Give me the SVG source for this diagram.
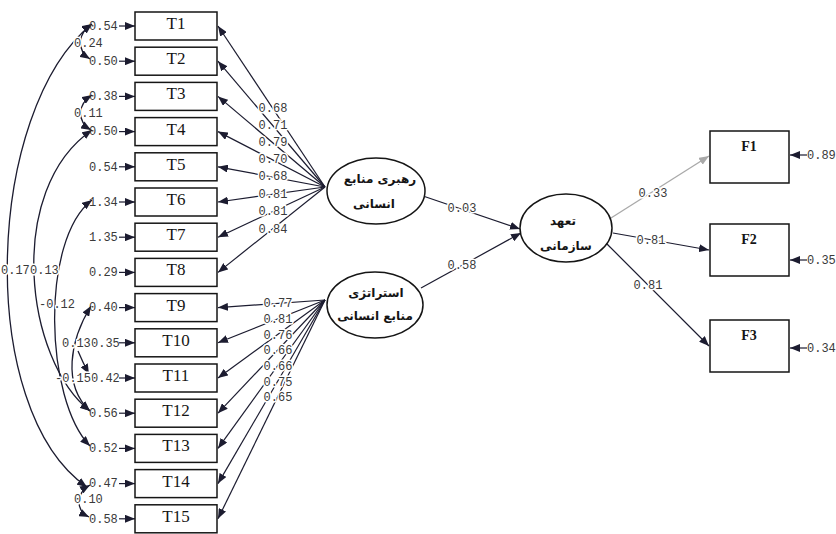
<svg xmlns="http://www.w3.org/2000/svg" width="836" height="534" viewBox="0 0 836 534">
<style>
.box{fill:#fff;stroke:#151515;stroke-width:1.5}
.ell{fill:#fff;stroke:#151515;stroke-width:1.5}
.tl{font-family:"Liberation Serif","Times New Roman",serif;font-size:17px;fill:#151515;text-anchor:middle}
.fl{font-family:"Liberation Serif","Times New Roman",serif;font-size:14px;font-weight:bold;fill:#151515;text-anchor:middle}
.num{font-family:"Liberation Mono","DejaVu Sans Mono",monospace;font-size:12px;fill:#3a3a3a}
.mid{text-anchor:middle}
.halo{paint-order:stroke;stroke:#fff;stroke-width:3px;stroke-linejoin:round}
.ar{font-family:"DejaVu Sans","Noto Sans",sans-serif;font-size:12px;font-weight:bold;fill:#151515;text-anchor:middle}
.ln{stroke:#1c1c30;stroke-width:1.2;fill:none}
.cv{stroke:#1c1c30;stroke-width:1.3;fill:none}
.gr{stroke:#a9a9a9;stroke-width:1.3;fill:none}
</style>
<defs>
<marker id="ah" markerUnits="userSpaceOnUse" markerWidth="10" markerHeight="8" refX="10" refY="4" orient="auto-start-reverse"><path d="M0,0 L10,4 L0,8 z" fill="#1c1c30"/></marker>
<marker id="ahg" markerUnits="userSpaceOnUse" markerWidth="10" markerHeight="8" refX="10" refY="4" orient="auto"><path d="M0,0 L10,4 L0,8 z" fill="#a9a9a9"/></marker>
</defs>

<g id="connectors">
<path class="ln" marker-end="url(#ah)" d="M325 187 L218 26"/>
<path class="ln" marker-end="url(#ah)" d="M325 187 L218 61.2"/>
<path class="ln" marker-end="url(#ah)" d="M325 187 L218 96.4"/>
<path class="ln" marker-end="url(#ah)" d="M325 187 L218 131.6"/>
<path class="ln" marker-end="url(#ah)" d="M325 187 L218 166.8"/>
<path class="ln" marker-end="url(#ah)" d="M325 187 L218 202"/>
<path class="ln" marker-end="url(#ah)" d="M325 187 L218 237.2"/>
<path class="ln" marker-end="url(#ah)" d="M325 187 L218 272.4"/>
<path class="ln" marker-end="url(#ah)" d="M325 300 L218 307.6"/>
<path class="ln" marker-end="url(#ah)" d="M325 300 L218 342.8"/>
<path class="ln" marker-end="url(#ah)" d="M325 300 L218 378"/>
<path class="ln" marker-end="url(#ah)" d="M325 300 L218 413.2"/>
<path class="ln" marker-end="url(#ah)" d="M325 300 L218 448.4"/>
<path class="ln" marker-end="url(#ah)" d="M325 300 L218 483.6"/>
<path class="ln" marker-end="url(#ah)" d="M325 300 L218 518.8"/>
<path class="ln" marker-end="url(#ah)" d="M119 26 L135 26"/>
<path class="ln" marker-end="url(#ah)" d="M119 61.2 L135 61.2"/>
<path class="ln" marker-end="url(#ah)" d="M119 96.4 L135 96.4"/>
<path class="ln" marker-end="url(#ah)" d="M119 131.6 L135 131.6"/>
<path class="ln" marker-end="url(#ah)" d="M119 166.8 L135 166.8"/>
<path class="ln" marker-end="url(#ah)" d="M119 202 L135 202"/>
<path class="ln" marker-end="url(#ah)" d="M119 237.2 L135 237.2"/>
<path class="ln" marker-end="url(#ah)" d="M119 272.4 L135 272.4"/>
<path class="ln" marker-end="url(#ah)" d="M119 307.6 L135 307.6"/>
<path class="ln" marker-end="url(#ah)" d="M119 342.8 L135 342.8"/>
<path class="ln" marker-end="url(#ah)" d="M119 378 L135 378"/>
<path class="ln" marker-end="url(#ah)" d="M119 413.2 L135 413.2"/>
<path class="ln" marker-end="url(#ah)" d="M119 448.4 L135 448.4"/>
<path class="ln" marker-end="url(#ah)" d="M119 483.6 L135 483.6"/>
<path class="ln" marker-end="url(#ah)" d="M119 518.8 L135 518.8"/>
<path class="cv" marker-start="url(#ah)" marker-end="url(#ah)" d="M92 24 C-15 110,-25 410,87 487"/>
<path class="cv" marker-start="url(#ah)" marker-end="url(#ah)" d="M92 130 C5 190,25 360,90 411"/>
<path class="cv" marker-start="url(#ah)" marker-end="url(#ah)" d="M92 200 C40 240,45 400,90 446"/>
<path class="cv" marker-start="url(#ah)" marker-end="url(#ah)" d="M91 306 C70 340,62 385,90 411"/>
<path class="cv" marker-end="url(#ah)" d="M78 351 Q83 363 89 374"/>
<path class="cv" marker-start="url(#ah)" marker-end="url(#ah)" d="M92 24 C78 33,76 50,90 59"/>
<path class="cv" marker-start="url(#ah)" marker-end="url(#ah)" d="M92 95 C78 104,76 121,91 130"/>
<path class="cv" marker-start="url(#ah)" marker-end="url(#ah)" d="M90 485 C76 493,75 510,89 517"/>
<path class="ln" marker-end="url(#ah)" d="M423 196 L520 229"/>
<path class="ln" marker-end="url(#ah)" d="M421 288 L521 233"/>
<path class="gr" marker-end="url(#ahg)" d="M611 218 L709 156"/>
<path class="ln" marker-end="url(#ah)" d="M613 233 L709 250"/>
<path class="ln" marker-end="url(#ah)" d="M606 243 L709 346"/>
<path class="ln" marker-end="url(#ah)" d="M807 155 L790 155"/>
<path class="ln" marker-end="url(#ah)" d="M807 260 L790 260"/>
<path class="ln" marker-end="url(#ah)" d="M807 348 L790 348"/>
</g>

<g id="error-labels" class="num">
<text x="89" y="30">0.54</text>
<text x="89" y="65">0.50</text>
<text x="89" y="100">0.38</text>
<text x="89" y="135">0.50</text>
<text x="89" y="171">0.54</text>
<text x="89" y="206">1.34</text>
<text x="89" y="241">1.35</text>
<text x="89" y="276">0.29</text>
<text x="89" y="311">0.40</text>
<text x="91" y="347">0.35</text>
<text x="91" y="382">0.42</text>
<text x="89" y="417">0.56</text>
<text x="89" y="452">0.52</text>
<text x="89" y="487">0.47</text>
<text x="89" y="523">0.58</text>
<text x="807" y="159">0.89</text>
<text x="807" y="264">0.35</text>
<text x="807" y="352">0.34</text>
</g>

<g id="covariance-labels" class="num halo">
<text x="74" y="47">0.24</text>
<text x="74" y="117">0.11</text>
<text x="74" y="503">0.10</text>
<text x="1" y="274">0.17</text>
<text x="30" y="274">0.13</text>
<text x="39" y="308">-0.12</text>
<text x="62" y="347">0.13</text>
<text x="55" y="382">-0.15</text>
</g>

<g id="loading-labels" class="num mid halo">
<text x="273" y="112">0.68</text>
<text x="273" y="129">0.71</text>
<text x="273" y="146">0.79</text>
<text x="273" y="163">0.70</text>
<text x="273" y="180">0.68</text>
<text x="273" y="198">0.81</text>
<text x="273" y="215">0.81</text>
<text x="273" y="233">0.84</text>
<text x="278" y="307">0.77</text>
<text x="278" y="323">0.81</text>
<text x="278" y="339">0.76</text>
<text x="278" y="354">0.66</text>
<text x="278" y="370">0.66</text>
<text x="278" y="386">0.75</text>
<text x="278" y="401">0.65</text>
<text x="462" y="212">0.03</text>
<text x="462" y="269">0.58</text>
<text x="653" y="197">0.33</text>
<text x="651" y="244">0.81</text>
<text x="648" y="289">0.81</text>
</g>

<g id="T1"><rect class="box" x="135" y="12" width="82" height="28"/><text class="tl" x="176" y="29">T1</text></g>
<g id="T2"><rect class="box" x="135" y="47.2" width="82" height="28"/><text class="tl" x="176" y="64.2">T2</text></g>
<g id="T3"><rect class="box" x="135" y="82.4" width="82" height="28"/><text class="tl" x="176" y="99.4">T3</text></g>
<g id="T4"><rect class="box" x="135" y="117.6" width="82" height="28"/><text class="tl" x="176" y="134.6">T4</text></g>
<g id="T5"><rect class="box" x="135" y="152.8" width="82" height="28"/><text class="tl" x="176" y="169.8">T5</text></g>
<g id="T6"><rect class="box" x="135" y="188" width="82" height="28"/><text class="tl" x="176" y="205">T6</text></g>
<g id="T7"><rect class="box" x="135" y="223.2" width="82" height="28"/><text class="tl" x="176" y="240.2">T7</text></g>
<g id="T8"><rect class="box" x="135" y="258.4" width="82" height="28"/><text class="tl" x="176" y="275.4">T8</text></g>
<g id="T9"><rect class="box" x="135" y="293.6" width="82" height="28"/><text class="tl" x="176" y="310.6">T9</text></g>
<g id="T10"><rect class="box" x="135" y="328.8" width="82" height="28"/><text class="tl" x="176" y="345.8">T10</text></g>
<g id="T11"><rect class="box" x="135" y="364" width="82" height="28"/><text class="tl" x="176" y="381">T11</text></g>
<g id="T12"><rect class="box" x="135" y="399.2" width="82" height="28"/><text class="tl" x="176" y="416.2">T12</text></g>
<g id="T13"><rect class="box" x="135" y="434.4" width="82" height="28"/><text class="tl" x="176" y="451.4">T13</text></g>
<g id="T14"><rect class="box" x="135" y="469.6" width="82" height="28"/><text class="tl" x="176" y="486.6">T14</text></g>
<g id="T15"><rect class="box" x="135" y="504.8" width="82" height="28"/><text class="tl" x="176" y="521.8">T15</text></g>

<g id="L1"><ellipse class="ell" cx="376" cy="191" rx="49" ry="33"/><text class="ar" x="380" y="183">رهبری منابع</text><text class="ar" x="374" y="208">انسانی</text></g>
<g id="L2"><ellipse class="ell" cx="375" cy="305" rx="48" ry="33"/><text class="ar" x="376" y="297">استراتژی</text><text class="ar" x="375" y="320">منابع انسانی</text></g>
<g id="L3"><ellipse class="ell" cx="566" cy="228" rx="46" ry="34"/><text class="ar" x="563" y="225">تعهد</text><text class="ar" x="566" y="250">سازمانی</text></g>

<g id="F1"><rect class="box" x="710" y="131" width="79" height="52"/><text class="fl" x="749" y="151">F1</text></g>
<g id="F2"><rect class="box" x="710" y="224" width="79" height="52"/><text class="fl" x="749" y="244">F2</text></g>
<g id="F3"><rect class="box" x="710" y="320" width="79" height="52"/><text class="fl" x="749" y="340">F3</text></g>
</svg>
